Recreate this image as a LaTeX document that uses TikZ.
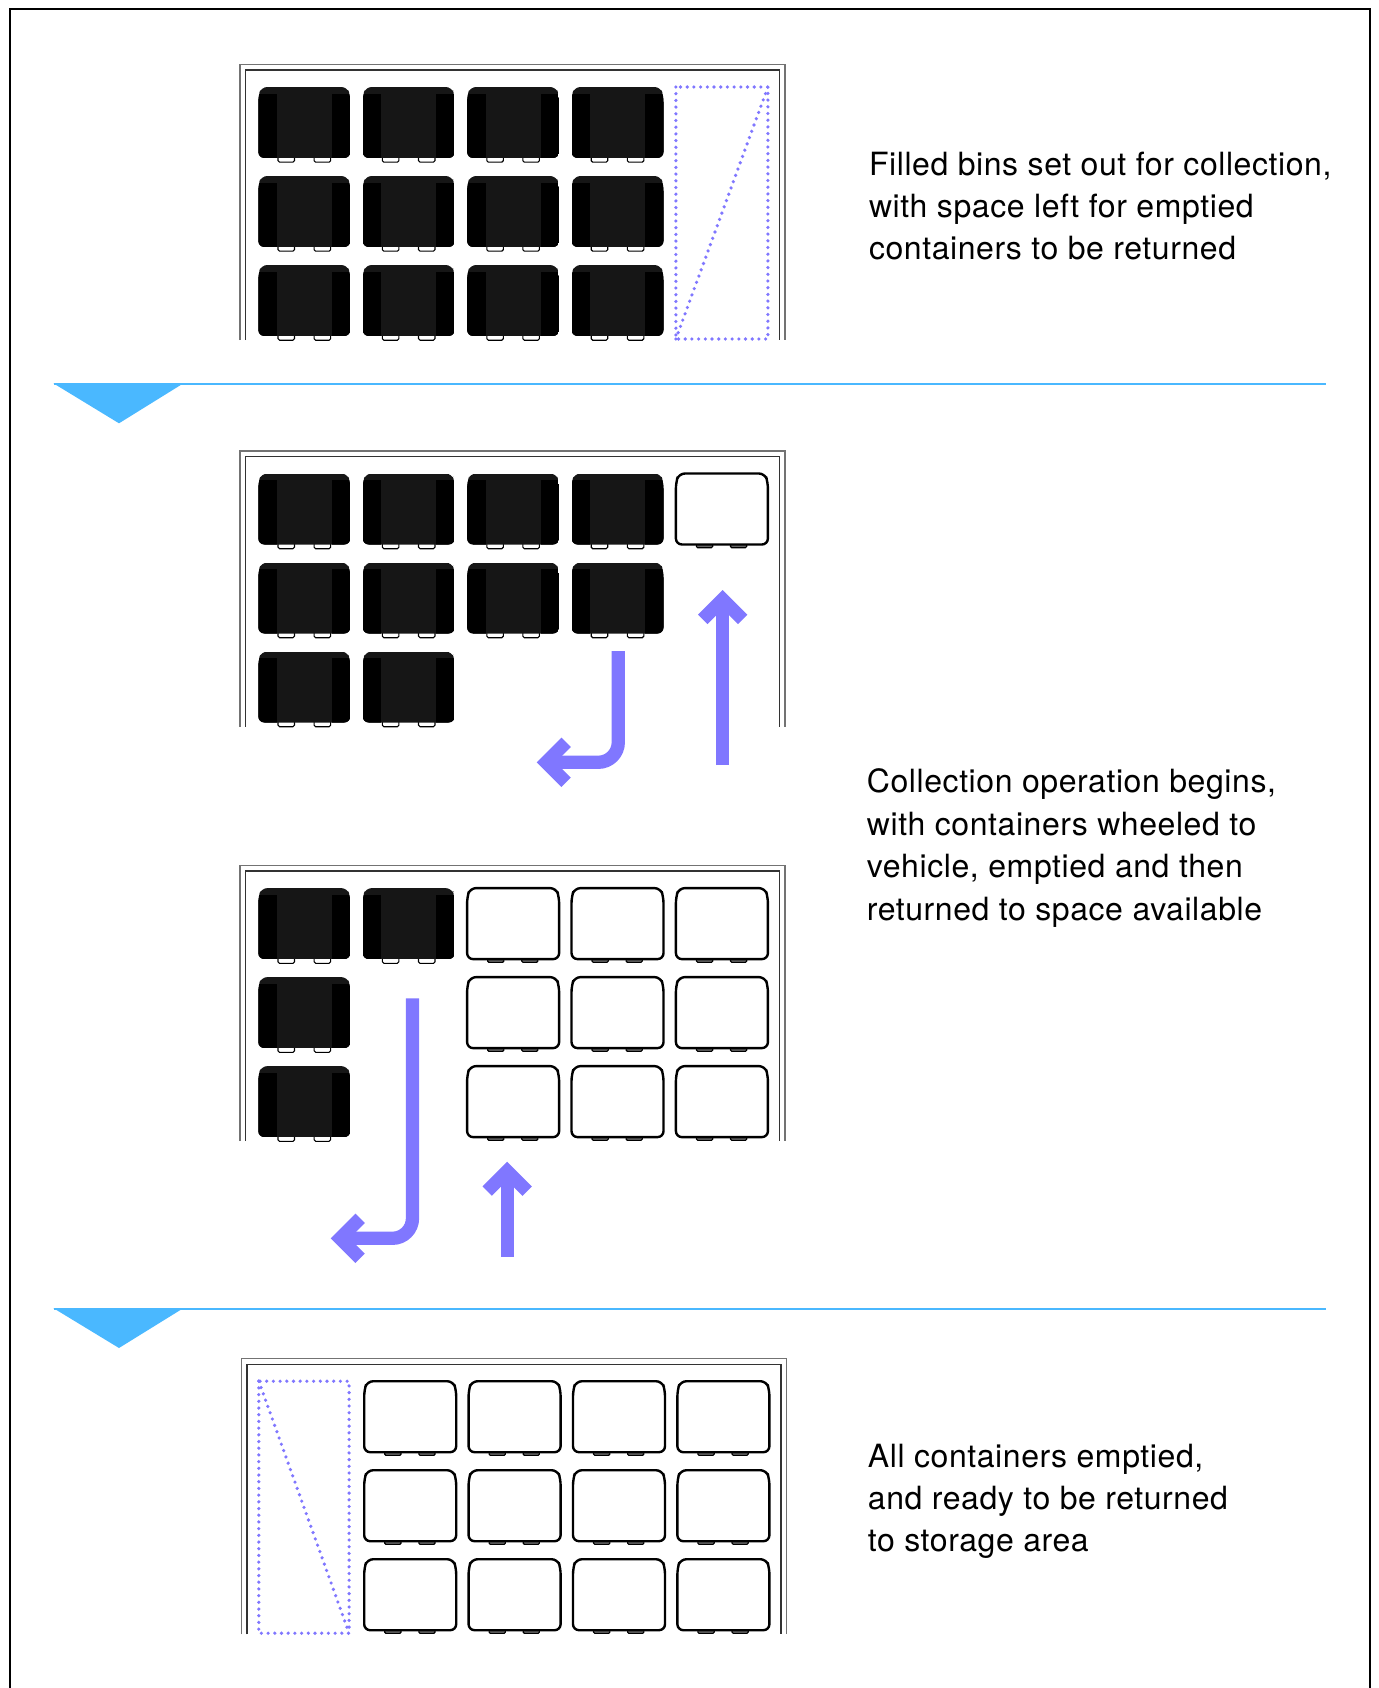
\documentclass[tikz,border=0pt]{standalone}
\usepackage{fontspec}
\setmainfont{TeX Gyre Heros}
\newfontfamily\labelfont[LetterSpace=1.8]{TeX Gyre Heros}
\definecolor{flowviolet}{RGB}{128,119,255}
\definecolor{sepblue}{RGB}{74,184,255}
\definecolor{lidgray}{RGB}{22,22,22}
\tikzset{
  fullbin/.pic={
    \draw[line width=1.1, fill=white, rounded corners=1.5] (19.7,67) rectangle (36.2,75.2);
    \draw[line width=1.1, fill=white, rounded corners=1.5] (55.8,67) rectangle (72.3,75.2);
    \begin{scope}
      \clip[rounded corners=6] (3,0) -- (89,0) -- (92,9) -- (92,71) -- (0,71) -- (0,9) -- cycle;
      \fill[lidgray] (0,0) rectangle (92,71);
      \fill[black] (0,6.7) rectangle (18.5,71);
      \fill[black] (73.5,6.7) rectangle (92,71);
    \end{scope}
  },
  emptybin/.pic={
    \draw[line width=1.1, fill=black!60, rounded corners=1.2] (20.5,68) rectangle (36.8,74.2);
    \draw[line width=1.1, fill=black!60, rounded corners=1.2] (54.6,68) rectangle (70.8,74.2);
    \draw[line width=2.4, fill=white, rounded corners=6] (3,0) -- (89,0) -- (92,9) -- (92,71) -- (0,71) -- (0,9) -- cycle;
  },
  binframe/.pic={
    \draw[black!55, line width=1.3] (0,275.6) -- (0,0) -- (545,0) -- (545,275.6);
    \draw[black!80, line width=1.3] (5.5,275.6) -- (5.5,5.5) -- (539.5,5.5) -- (539.5,275.6);
  },
  gapmark/.style={draw=flowviolet, line width=3.6, line cap=round, dash pattern=on 0pt off 6.7pt},
  flowstem/.style={draw=flowviolet, line width=13.3, line cap=butt},
  flowhead/.style={draw=flowviolet, line width=13.3, line cap=butt, line join=miter},
  caption/.style={anchor=base west, inner sep=0pt, font=\labelfont\fontsize{32}{42}\selectfont},
  separator/.style={draw=sepblue, line width=2},
}
\begin{document}
\begin{tikzpicture}[x=1pt,y=-1pt]
\useasboundingbox (0,0) rectangle (1378,1688);

% outer border, open at the bottom
\draw[line width=1.6] (10,1690) -- (10,9) -- (1370,9) -- (1370,1690);

% ---------- stage 1: filled bins, space left free ----------
\begin{scope}[shift={(240,64.5)}]
  \pic at (0,0) {binframe};
  \foreach \c in {0,...,3}
    \foreach \r in {0,1,2}
      \pic at ({18.3+\c*104.4},{22.5+\r*89}) {fullbin};
  \coordinate (free1nw) at (435.9,22.5);
  \coordinate (free1se) at (527.9,274.5);
  \draw[gapmark] (free1nw) rectangle (free1se);
  \draw[gapmark] (free1se -| free1nw) -- (free1nw -| free1se);
\end{scope}
\node[caption] (capAa) at (868.8,176) {Filled bins set out for collection,};
\node[caption] (capAb) at (868.8,218) {with space left for emptied};
\node[caption] (capAc) at (868.8,260) {containers to be returned};

% separator 1
\coordinate (sepAw) at (53.5,384.4);
\coordinate (sepAe) at (1326.4,384.4);
\draw[separator] (sepAw) -- (sepAe);
\fill[sepblue] (53.5,383.4) -- (183.3,383.4) -- (119,423.3) -- cycle;

% ---------- stage 2: first containers moved ----------
\begin{scope}[shift={(240,451)}]
  \pic at (0,0) {binframe};
  \foreach \c in {0,...,3}
    \foreach \r in {0,1}
      \pic at ({18.3+\c*104.4},{22.5+\r*89}) {fullbin};
  \foreach \c in {0,1}
    \pic at ({18.3+\c*104.4},{22.5+2*89}) {fullbin};
  \pic at ({18.3+4*104.4},22.5) {emptybin};
\end{scope}

% stage 2 movement arrows
\coordinate (outAs) at (618.3,651);
\coordinate (outAt) at (546.1,762.3);
\draw[flowstem, rounded corners=20] (outAs) |- (outAt);
\draw[flowhead] ([shift={(20,-20)}]outAt) -- (outAt) -- ([shift={(20,20)}]outAt);
\coordinate (backAs) at (722.7,765);
\coordinate (backAt) at (722.7,599.4);
\draw[flowstem] (backAs) -- (backAt);
\draw[flowhead] ([shift={(-20,20)}]backAt) -- (backAt) -- ([shift={(20,20)}]backAt);

% ---------- stage 3: collection under way ----------
\begin{scope}[shift={(240,865.6)}]
  \pic at (0,0) {binframe};
  \foreach \c in {0,1}
    \pic at ({18.3+\c*104.4},22.5) {fullbin};
  \foreach \r in {1,2}
    \pic at (18.3,{22.5+\r*89}) {fullbin};
  \foreach \c in {2,3,4}
    \foreach \r in {0,1,2}
      \pic at ({18.3+\c*104.4},{22.5+\r*89}) {emptybin};
\end{scope}

% stage 3 movement arrows
\coordinate (outBs) at (412.5,998.3);
\coordinate (outBt) at (340.1,1238.3);
\draw[flowstem, rounded corners=20] (outBs) |- (outBt);
\draw[flowhead] ([shift={(20,-20)}]outBt) -- (outBt) -- ([shift={(20,20)}]outBt);
\coordinate (backBs) at (507.2,1256.7);
\coordinate (backBt) at (507.2,1171.1);
\draw[flowstem] (backBs) -- (backBt);
\draw[flowhead] ([shift={(-20,20)}]backBt) -- (backBt) -- ([shift={(20,20)}]backBt);

\node[caption] (capBa) at (866.7,792.5) {Collection operation begins,};
\node[caption] (capBb) at (866.7,835.5) {with containers wheeled to};
\node[caption] (capBc) at (866.7,877.5) {vehicle, emptied and then};
\node[caption] (capBd) at (866.7,920.5) {returned to space available};

% separator 2
\coordinate (sepBw) at (53.5,1309.2);
\coordinate (sepBe) at (1326.4,1309.2);
\draw[separator] (sepBw) -- (sepBe);
\fill[sepblue] (53.5,1308.2) -- (183.3,1308.2) -- (119,1348) -- cycle;

% ---------- stage 4: all containers emptied ----------
\begin{scope}[shift={(241.5,1358.7)}]
  \pic at (0,0) {binframe};
  \coordinate (free4nw) at (17.3,22.5);
  \coordinate (free4se) at (107.6,274.5);
  \draw[gapmark] (free4nw) rectangle (free4se);
  \draw[gapmark] (free4nw) -- (free4se);
  \foreach \c in {1,...,4}
    \foreach \r in {0,1,2}
      \pic at ({18.3+\c*104.4},{22.5+\r*89}) {emptybin};
\end{scope}
\node[caption] (capCa) at (867.7,1467) {All containers emptied,};
\node[caption] (capCb) at (867.7,1509) {and ready to be returned};
\node[caption] (capCc) at (867.7,1551) {to storage area};
\end{tikzpicture}
\end{document}
